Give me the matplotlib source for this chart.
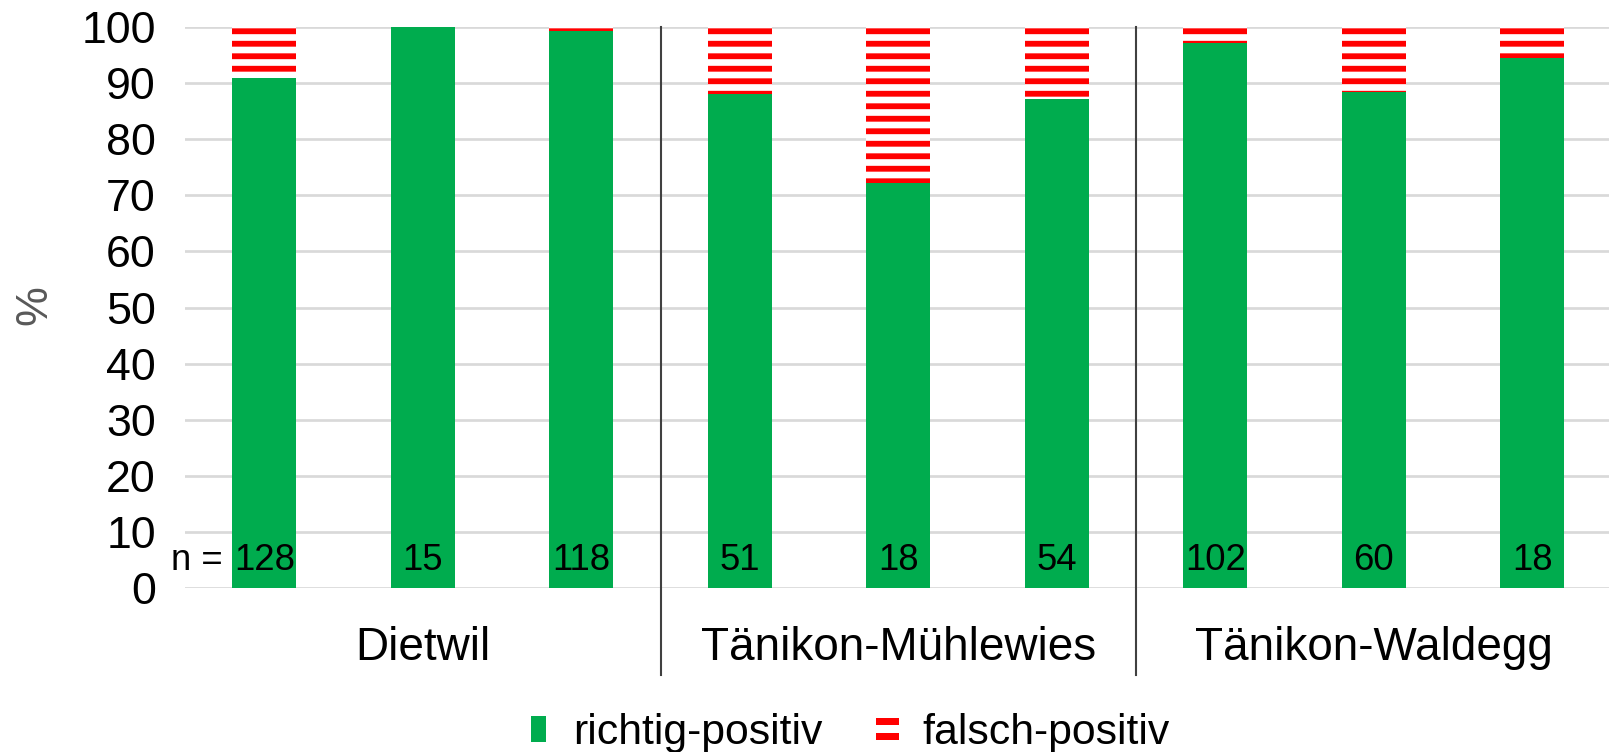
""" Stacked bars of richtig-/falsch-positiv detections per site
"""

import numpy as np
import matplotlib
matplotlib.use('Agg')
import matplotlib.pyplot as plt
from matplotlib.patches import Patch, Rectangle, PathPatch
from matplotlib.path import Path
from matplotlib.legend_handler import HandlerPatch

plt.rcParams['font.family'] = ['Liberation Sans', 'DejaVu Sans']
plt.rcParams['hatch.linewidth'] = 2.8

# Data
sites = ['Dietwil', 'Tänikon-Mühlewies', 'Tänikon-Waldegg']
bars_per_site = 3
richtig = [91, 100, 99.3, 88, 72.2, 87.2, 97.1, 88.4, 94.5]
falsch = [100 - v for v in richtig]
n_labels = ['128', '15', '118', '51', '18', '54', '102', '60', '18']
legend_labels = ['richtig-positiv', 'falsch-positiv']

green = '#00ac4e'
red = '#ff0000'


def green_handle(legend, orig_handle, xdescent, ydescent, width, height,
                 fontsize):
    # narrow tall square, centred in the handle box
    w = width * 0.64
    h = height * 1.05
    return Rectangle((-xdescent + (width - w) / 2, -ydescent + (height - h) / 2),
                     w, h, facecolor=green, linewidth=0)


def red_handle(legend, orig_handle, xdescent, ydescent, width, height,
               fontsize):
    # two thick red stripes, like an '='
    sh = height * 0.29
    gap = height * 0.33
    y0 = -ydescent + (height - 2 * sh - gap) / 2
    verts, codes = [], []
    for yy in (y0, y0 + sh + gap):
        verts += [(-xdescent, yy), (-xdescent + width, yy),
                  (-xdescent + width, yy + sh), (-xdescent, yy + sh),
                  (-xdescent, yy)]
        codes += [Path.MOVETO, Path.LINETO, Path.LINETO, Path.LINETO,
                  Path.CLOSEPOLY]
    return PathPatch(Path(verts, codes), facecolor=red, linewidth=0)


fig = plt.figure(figsize=(1610 / 150, 752 / 150), dpi=150)
ax = fig.add_axes([0.115, 0.218, 0.886, 0.746])

x = np.arange(len(richtig))
ax.bar(x, richtig, width=0.404, color=green, linewidth=0, zorder=2)
ax.bar(x, falsch, width=0.404, bottom=richtig, facecolor='white',
       edgecolor=red, hatch='--', linewidth=0, zorder=2)

# Axis setup
ax.set_xlim(-0.5, len(richtig) - 0.5)
ax.set_ylim(0, 100)
ax.set_yticks(np.arange(0, 101, 10))
ax.yaxis.grid(True, color='#d9d9d9', linewidth=1.3, zorder=0)
ax.set_axisbelow(True)
for s in ax.spines.values():
    s.set_visible(False)
ax.tick_params(axis='y', length=0, labelsize=21.5, pad=14)
ax.tick_params(axis='x', length=0, labelbottom=False)
fig.text(35 / 1610, 1 - 305 / 752, '%', rotation=90, ha='center',
         va='center', fontsize=21.5, color='#595959')

# n labels
for xi, lab in zip(x, n_labels):
    ax.text(xi, 5, lab, ha='center', va='center', fontsize=17.5, zorder=3)
ax.text(-0.265, 5, 'n =', ha='right', va='center', fontsize=17.5)

# Group separators and names
trans = ax.get_xaxis_transform()
for k in range(1, len(sites)):
    xs = k * bars_per_site - 0.5
    ax.plot([xs, xs], [1.0, -0.155], transform=trans, color='#404040',
            linewidth=1.0, clip_on=False, zorder=3)
for k, name in enumerate(sites):
    xc = k * bars_per_site + (bars_per_site - 1) / 2
    ax.text(xc, -0.106, name, transform=trans, ha='center', va='center',
            fontsize=22)

# Legend
h_green = Patch(facecolor=green)
h_red = Patch(facecolor=red)
fig.legend([h_green, h_red], legend_labels, ncol=2,
           loc='center', bbox_to_anchor=(0.527, 0.025), frameon=False,
           fontsize=20.5, handlelength=0.53, handleheight=0.5,
           columnspacing=1.25, handletextpad=0.55, borderpad=0,
           handler_map={h_green: HandlerPatch(patch_func=green_handle),
                        h_red: HandlerPatch(patch_func=red_handle)})

plt.savefig('out.png', dpi=150)
